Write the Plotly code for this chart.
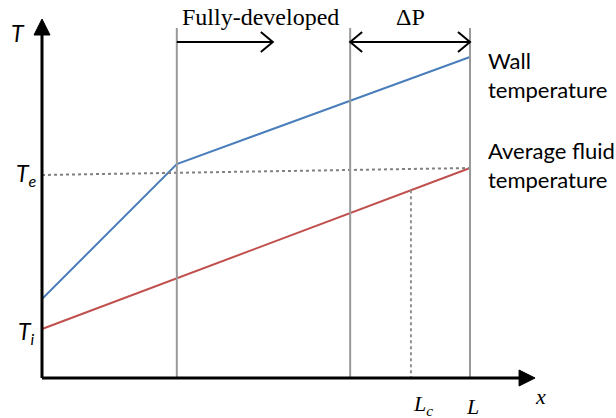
import plotly.graph_objects as go

# ---- positions along the pipe (x) ----
X_FD = 3.15      # start of fully-developed region
X_DP = 7.2       # start of pressure-drop section
X_LC = 8.62      # L_c
X_L = 10.0       # pipe length L
X_AXIS_END = 11.52

# ---- temperature profiles ----
wall_x = [0.0, X_FD, X_L]
wall_T = [7.9, 21.4, 32.1]
fluid_x = [0.0, X_L]
fluid_T = [4.9, 21.0]
te_x = [0.0, X_L]
te_T = [20.3, 21.0]

T_AXIS_END = 35.9
DIVIDER_TOP = 35.0
ARROW_Y = 33.6

# ---- canvas mapping (pixels per data unit) ----
W, H = 616, 418
X0_PX, SX = 42.0, 42.8
Y0_PX, SY = 378.0, 10.0
x_range = [(0 - X0_PX) / SX, (W - X0_PX) / SX]
y_range = [(Y0_PX - H) / SY, Y0_PX / SY]


def dx(px):
    return px / SX


def dy(px):
    return px / SY


fig = go.Figure()

# fluid and wall curves
fig.add_trace(go.Scatter(x=fluid_x, y=fluid_T, mode="lines",
                         line=dict(color="#C0504D", width=2), hoverinfo="skip"))
fig.add_trace(go.Scatter(x=wall_x, y=wall_T, mode="lines",
                         line=dict(color="#4A7EBB", width=2), hoverinfo="skip"))
# exit temperature reference line
fig.add_trace(go.Scatter(x=te_x, y=te_T, mode="lines",
                         line=dict(color="#808080", width=2, dash="dot"), hoverinfo="skip"))

# L_c marker dropping from the fluid line
t_lc = fluid_T[0] + (fluid_T[1] - fluid_T[0]) * (X_LC - fluid_x[0]) / (fluid_x[1] - fluid_x[0])
fig.add_trace(go.Scatter(x=[X_LC, X_LC], y=[t_lc, 0], mode="lines",
                         line=dict(color="#909090", width=2, dash="dot"), hoverinfo="skip"))

shapes = []
# section dividers
for xv in (X_FD, X_DP, X_L):
    shapes.append(dict(type="line", xref="x", yref="y", x0=xv, x1=xv, y0=0, y1=DIVIDER_TOP,
                       line=dict(color="#999999", width=2)))

# axes
shapes.append(dict(type="line", xref="x", yref="y", x0=0, x1=0, y0=0, y1=T_AXIS_END - dy(14),
                   line=dict(color="black", width=3)))
shapes.append(dict(type="line", xref="x", yref="y", x0=0, x1=X_AXIS_END - dx(14), y0=0, y1=0,
                   line=dict(color="black", width=3)))

# arrow shafts
shapes.append(dict(type="line", xref="x", yref="y", x0=X_FD, x1=X_FD + dx(96), y0=ARROW_Y, y1=ARROW_Y,
                   line=dict(color="black", width=2)))
shapes.append(dict(type="line", xref="x", yref="y", x0=X_DP, x1=X_L, y0=ARROW_Y, y1=ARROW_Y,
                   line=dict(color="black", width=2)))


def chevron(tip_x, direction):
    back = tip_x - direction * dx(12)
    return dict(type="path", xref="x", yref="y",
                path=f"M {back},{ARROW_Y + dy(10)} L {tip_x},{ARROW_Y} L {back},{ARROW_Y - dy(10)}",
                line=dict(color="black", width=2))


shapes.append(chevron(X_FD + dx(96), 1))
shapes.append(chevron(X_L, 1))
shapes.append(chevron(X_DP, -1))

fig.update_layout(shapes=shapes)

# filled axis arrowheads
fig.add_trace(go.Scatter(x=[0, -dx(8), dx(8), 0],
                         y=[T_AXIS_END, T_AXIS_END - dy(16), T_AXIS_END - dy(16), T_AXIS_END],
                         mode="lines", fill="toself", fillcolor="black",
                         line=dict(color="black", width=1), hoverinfo="skip"))
fig.add_trace(go.Scatter(x=[X_AXIS_END, X_AXIS_END - dx(16), X_AXIS_END - dx(16), X_AXIS_END],
                         y=[0, dy(8), -dy(8), 0],
                         mode="lines", fill="toself", fillcolor="black",
                         line=dict(color="black", width=1), hoverinfo="skip"))

sans_it = dict(family="Lato", size=23, color="black")
serif = dict(family="Liberation Serif", size=24, color="black")
serif_it = dict(family="Liberation Serif", size=22, color="black")
label_font = dict(family="Lato", size=22, color="black")

ann = [
    dict(x=-dx(24), y=T_AXIS_END - dy(14), text="<i>T</i>", font=sans_it),
    dict(x=-dx(16), y=te_T[0] + dy(1), text="<i>T<sub>e</sub></i>", font=sans_it),
    dict(x=-dx(16), y=fluid_T[0] - dy(3), text="<i>T<sub>i</sub></i>", font=sans_it),
    dict(x=X_FD + dx(84), y=ARROW_Y + dy(25), text="Fully-developed", font=serif),
    dict(x=(X_DP + X_L) / 2, y=ARROW_Y + dy(25), text="ΔP", font=serif),
    dict(x=X_LC + dx(12), y=-dy(27), text="<i>L<sub>c</sub></i>", font=serif_it),
    dict(x=X_L + dx(2), y=-dy(28), text="<i>L</i>", font=serif_it),
    dict(x=X_AXIS_END + dx(5), y=-dy(18), text="<i>x</i>", font=serif_it),
    dict(x=X_L + dx(16), y=wall_T[-1] - dy(18), text="Wall<br>temperature",
         font=label_font, xanchor="left", align="left"),
    dict(x=X_L + dx(16), y=fluid_T[-1] + dy(3), text="Average fluid<br>temperature",
         font=label_font, xanchor="left", align="left"),
]
for a in ann:
    a.setdefault("xanchor", "center")
    a.update(xref="x", yref="y", showarrow=False, yanchor="middle")
fig.update_layout(annotations=ann)

fig.update_layout(
    width=W, height=H, margin=dict(l=0, r=0, t=0, b=0),
    paper_bgcolor="white", plot_bgcolor="white", showlegend=False,
    xaxis=dict(range=x_range, visible=False, fixedrange=True),
    yaxis=dict(range=y_range, visible=False, fixedrange=True),
)

fig.write_html("out.html")
